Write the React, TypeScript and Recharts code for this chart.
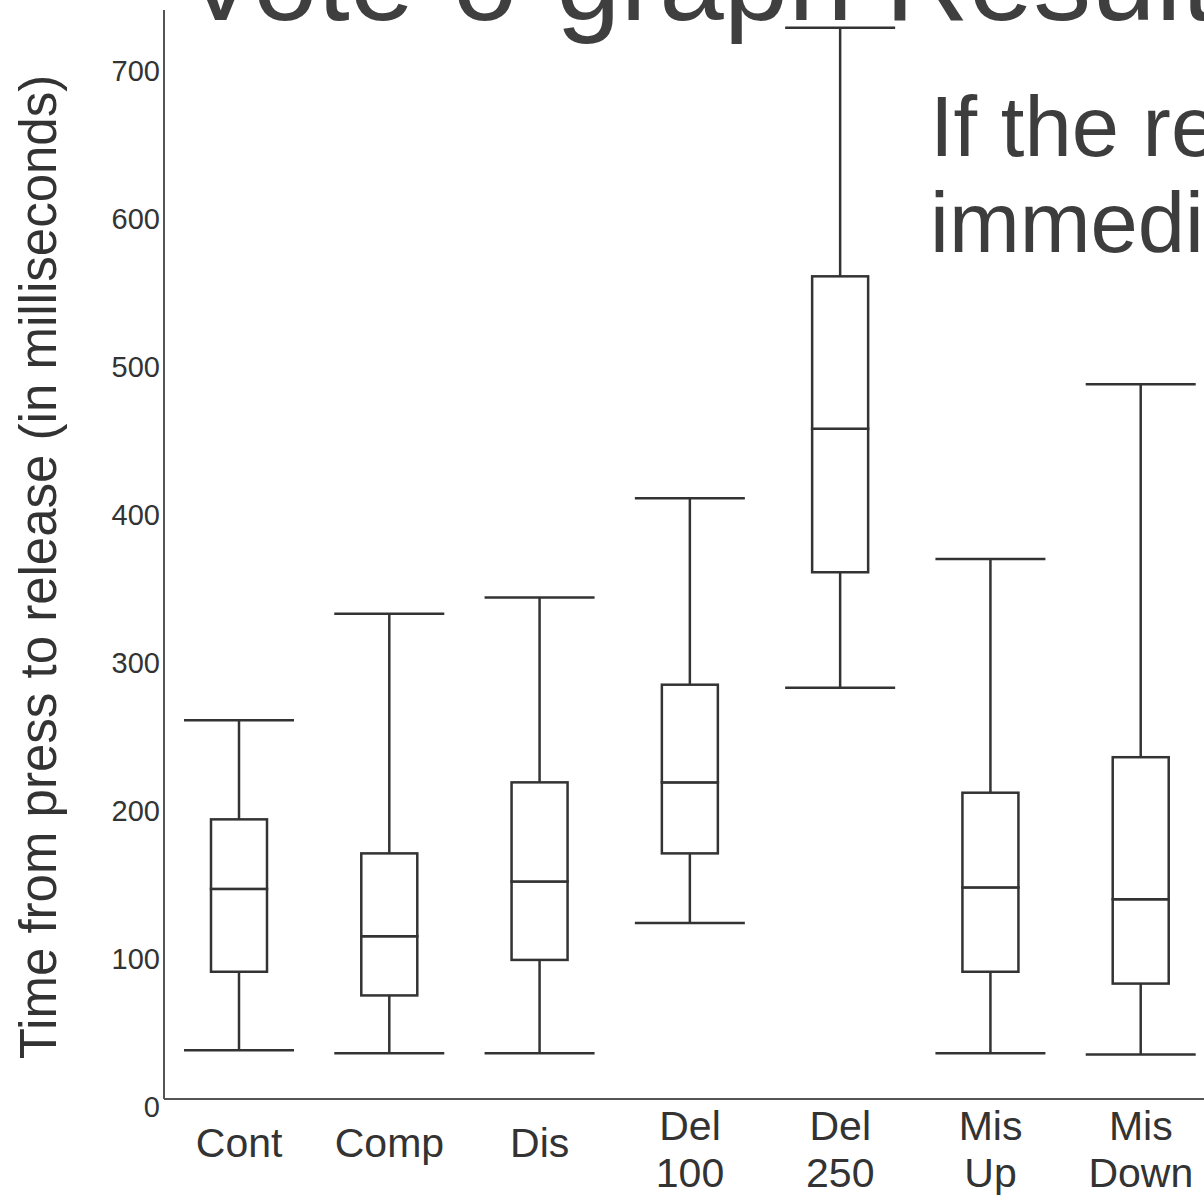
import React from 'react';
import { ComposedChart, Bar, XAxis, YAxis } from 'recharts';

// box plot summary per condition (ms)
const categories = ['Cont', 'Comp', 'Dis', 'Del\n100', 'Del\n250', 'Mis\nUp', 'Mis\nDown'];
const lowWhisker = [33, 31, 31, 119, 278, 31, 30];
const q1 = [86, 70, 94, 166, 356, 86, 78];
const median = [142, 110, 147, 214, 453, 143, 135];
const q3 = [189, 166, 214, 280, 556, 207, 231];
const highWhisker = [256, 328, 339, 406, 724, 365, 483];
const yTicks = [0, 100, 200, 300, 400, 500, 600, 700];

const data = categories.map((name, i) => ({
  name,
  base: lowWhisker[i],
  lowerWhisker: q1[i] - lowWhisker[i],
  lowerBox: median[i] - q1[i],
  upperBox: q3[i] - median[i],
  upperWhisker: highWhisker[i] - q3[i],
}));

const INK = '#333';
const FONT = '"Liberation Sans", Arial, sans-serif';
const CAP = 55;

const LowerWhisker = (props: any) => {
  const { x, y, width, height } = props;
  const cx = x + width / 2;
  return (
    <g>
      <line x1={cx} x2={cx} y1={y} y2={y + height} stroke={INK} strokeWidth={2.5} />
      <line x1={cx - CAP} x2={cx + CAP} y1={y + height} y2={y + height} stroke={INK} strokeWidth={2.5} />
    </g>
  );
};

const UpperWhisker = (props: any) => {
  const { x, y, width, height } = props;
  const cx = x + width / 2;
  return (
    <g>
      <line x1={cx} x2={cx} y1={y} y2={y + height} stroke={INK} strokeWidth={2.5} />
      <line x1={cx - CAP} x2={cx + CAP} y1={y} y2={y} stroke={INK} strokeWidth={2.5} />
    </g>
  );
};

const BoxPart = (props: any) => {
  const { x, y, width, height } = props;
  return <rect x={x} y={y} width={width} height={height} fill="#fff" stroke={INK} strokeWidth={2.5} />;
};

const YTick = (props: any) => {
  const { y, payload } = props;
  return (
    <text x={160} y={y + 8} textAnchor="end" dominantBaseline="central" fontSize={29} fontFamily={FONT} fill="#333">
      {payload.value}
    </text>
  );
};

const XTick = (props: any) => {
  const { x, payload } = props;
  const lines = String(payload.value).split('\n');
  if (lines.length === 1) {
    return (
      <text x={x} y={1143} textAnchor="middle" dominantBaseline="central" fontSize={41} fontFamily={FONT} fill="#333">
        {lines[0]}
      </text>
    );
  }
  return (
    <text textAnchor="middle" fontSize={41} fontFamily={FONT} fill="#333">
      <tspan x={x} y={1126} dominantBaseline="central">{lines[0]}</tspan>
      <tspan x={x} y={1173} dominantBaseline="central">{lines[1]}</tspan>
    </text>
  );
};

const YLabel = () => (
  <text
    x={38}
    y={567}
    transform="rotate(-90, 38, 567)"
    textAnchor="middle"
    dominantBaseline="central"
    fontSize={51}
    fontFamily={FONT}
    fill="#333"
  >
    Time from press to release (in milliseconds)
  </text>
);

export default function App() {
  return (
    <div style={{ position: 'fixed', left: 0, top: 0, width: 1204, height: 1196, overflow: 'hidden', background: '#fff' }}>
      <ComposedChart
        width={1230}
        height={1196}
        data={data}
        margin={{ top: 10, right: 14, bottom: 0, left: 0 }}
        barCategoryGap={0}
      >
        <XAxis
          dataKey="name"
          height={97}
          tickLine={false}
          axisLine={{ stroke: '#555', strokeWidth: 2 }}
          tick={<XTick />}
          interval={0}
        />
        <YAxis
          width={164}
          domain={[0, 736]}
          ticks={yTicks}
          allowDataOverflow
          tickLine={false}
          axisLine={{ stroke: '#555', strokeWidth: 2 }}
          tick={<YTick />}
          label={<YLabel />}
        />
        <Bar dataKey="base" stackId="box" fill="none" barSize={56} isAnimationActive={false} />
        <Bar dataKey="lowerWhisker" stackId="box" barSize={56} shape={<LowerWhisker />} isAnimationActive={false} />
        <Bar dataKey="lowerBox" stackId="box" barSize={56} shape={<BoxPart />} isAnimationActive={false} />
        <Bar dataKey="upperBox" stackId="box" barSize={56} shape={<BoxPart />} isAnimationActive={false} />
        <Bar dataKey="upperWhisker" stackId="box" barSize={56} shape={<UpperWhisker />} isAnimationActive={false} />
      </ComposedChart>
      <svg width={1204} height={1196} style={{ position: 'absolute', left: 0, top: 0, pointerEvents: 'none' }}>
        <text x={182} y={20} fontSize={116} fontFamily={FONT} fill="#3f3f3f">Vote-o-graph Results</text>
        <text x={930} y={156} fontSize={85} fontFamily={FONT} fill="#3d3d3d">If the re</text>
        <text x={930} y={252} fontSize={85} fontFamily={FONT} fill="#3d3d3d">immedi</text>
      </svg>
    </div>
  );
}
